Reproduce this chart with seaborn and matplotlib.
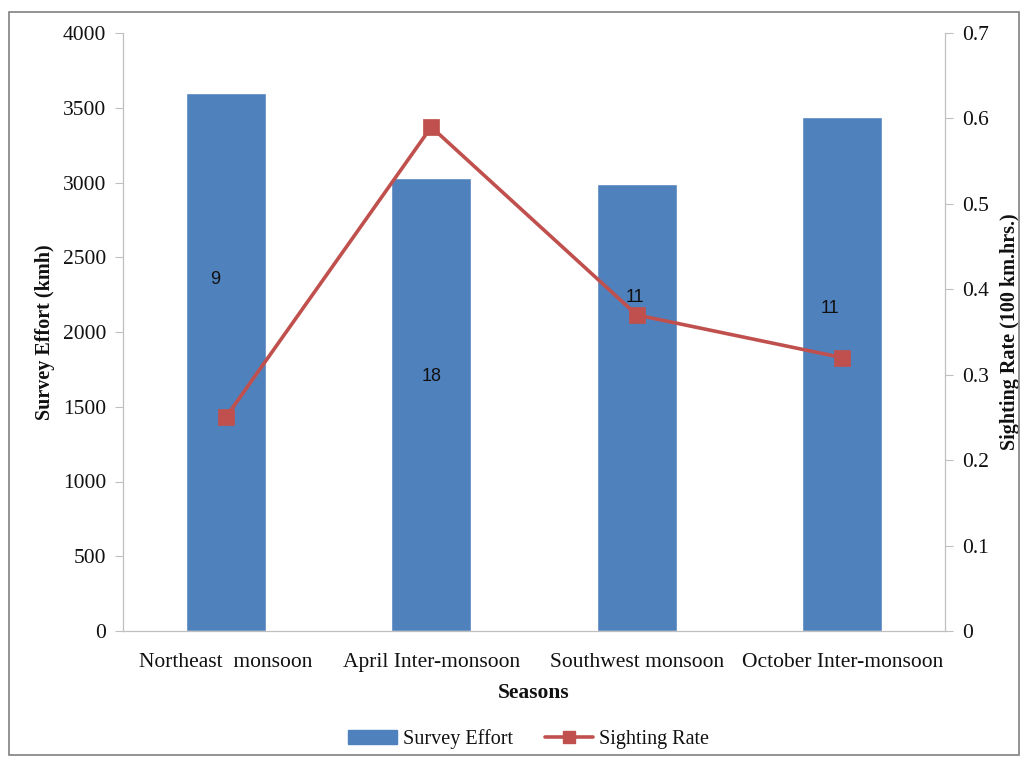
import numpy as np
import matplotlib.pyplot as plt
import seaborn as sns
from matplotlib.patches import Patch, Rectangle
from matplotlib.lines import Line2D

# -----------------------------
# Data
# -----------------------------
seasons = ["Northeast  monsoon", "April Inter-monsoon", "Southwest monsoon", "October Inter-monsoon"]
survey_effort = [3600, 3030, 2990, 3440]
sighting_rate = [0.25, 0.59, 0.37, 0.32]
sightings = [9, 18, 11, 11]
sightings_y = [2350, 1700, 2230, 2160]
sightings_dx = [-0.05, 0.0, -0.01, -0.06]

bar_color = "#4F81BD"
line_color = "#C0504D"
axis_gray = "#BFBFBF"
text_color = "#111111"

sns.set_style("white")
plt.rcParams["font.family"] = ["Liberation Serif", "DejaVu Serif"]
plt.rcParams["text.color"] = text_color
plt.rcParams["axes.labelcolor"] = text_color
plt.rcParams["xtick.color"] = text_color
plt.rcParams["ytick.color"] = text_color

fs = 15.5

fig = plt.figure(figsize=(10.27, 7.6), dpi=100)
ax = fig.add_axes([123 / 1027, 1 - 631 / 760, (945 - 123) / 1027, (631 - 33) / 760])

# -----------------------------
# Bars: survey effort
# -----------------------------
sns.barplot(x=seasons, y=survey_effort, color=bar_color, width=0.39,
            saturation=1, ax=ax)

for i, (n, yv) in enumerate(zip(sightings, sightings_y)):
    ax.text(i + sightings_dx[i], yv, str(n), ha="center", va="center",
            fontsize=13, family="Liberation Sans", color=text_color)

ax.set_ylim(0, 4000)
ax.set_xlim(-0.5, 3.5)
ax.set_yticks(np.arange(0, 4001, 500))
ax.set_xticks(np.arange(-0.5, 3.6, 1.0), minor=False)
ax.set_xticks(np.arange(0, 4), minor=True)
ax.set_xticklabels([])
ax.set_xticklabels(seasons, minor=True)
ax.tick_params(axis="x", which="minor", length=0, pad=16, labelsize=fs)
ax.tick_params(axis="x", which="major", length=6, color=axis_gray, direction="out")
ax.tick_params(axis="y", length=6, color=axis_gray, direction="out", labelsize=fs, pad=6, left=True)

ax.set_xlabel("Seasons", fontsize=fs, fontweight="bold", labelpad=8)
ax.set_ylabel("Survey Effort (kmh)", fontsize=14.5, fontweight="bold", labelpad=6)

ax.spines["top"].set_visible(False)
for side in ["left", "bottom", "right"]:
    ax.spines[side].set_color(axis_gray)

# -----------------------------
# Line: sighting rate
# -----------------------------
ax2 = ax.twinx()
sns.pointplot(x=seasons, y=sighting_rate, color=line_color, markers="s",
              markersize=10, linewidth=2.6, ax=ax2)
ax2.set_xlim(-0.5, 3.5)
ax2.set_ylim(0, 0.7)
ax2.set_yticks(np.arange(0, 0.71, 0.1))
ax2.set_yticklabels(["0"] + [f"{v:.1f}" for v in np.arange(0.1, 0.71, 0.1)])
ax2.tick_params(axis="y", length=6, color=axis_gray, direction="out", labelsize=fs, pad=6, right=True)
ax2.set_ylabel("Sighting Rate (100 km.hrs.)", fontsize=14.5, fontweight="bold", labelpad=8)
ax2.spines["top"].set_visible(False)
for side in ["left", "bottom", "right"]:
    ax2.spines[side].set_color(axis_gray)
ax2.grid(False)
ax.grid(False)

# -----------------------------
# Legend and frame
# -----------------------------
handles = [
    Patch(facecolor=bar_color, edgecolor=bar_color),
    Line2D([0], [0], color=line_color, lw=2.6, marker="s", markersize=9),
]
fig.legend(handles, ["Survey Effort", "Sighting Rate"], loc="center",
           bbox_to_anchor=(0.515, 1 - 739 / 760), ncol=2, frameon=False,
           fontsize=14.5, handlelength=2.4, columnspacing=1.6, handletextpad=0.3)

fig.patches.append(Rectangle((9 / 1027, 5 / 760), 1010 / 1027, 743 / 760,
                             transform=fig.transFigure, fill=False,
                             edgecolor="#808080", lw=1.2))

plt.savefig("out.png", dpi=100)
